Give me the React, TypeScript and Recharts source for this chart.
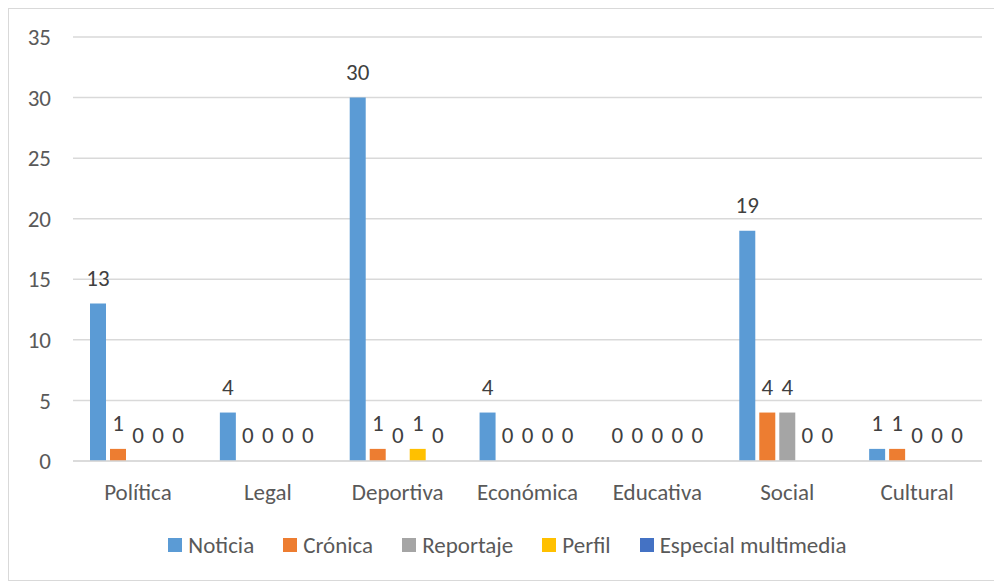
import { BarChart, Bar, XAxis, YAxis, CartesianGrid, Legend, LabelList } from "recharts";

const categories = ["Política", "Legal", "Deportiva", "Económica", "Educativa", "Social", "Cultural"];
const noticia = [13, 4, 30, 4, 0, 19, 1];
const cronica = [1, 0, 1, 0, 0, 4, 1];
const reportaje = [0, 0, 0, 0, 0, 4, 0];
const perfil = [0, 0, 1, 0, 0, 0, 0];
const especial = [0, 0, 0, 0, 0, 0, 0];
const yTicks = [0, 5, 10, 15, 20, 25, 30, 35];

const series = [
  { key: "noticia", name: "Noticia", color: "#5B9BD5" },
  { key: "cronica", name: "Crónica", color: "#ED7D31" },
  { key: "reportaje", name: "Reportaje", color: "#A5A5A5" },
  { key: "perfil", name: "Perfil", color: "#FFC000" },
  { key: "especial", name: "Especial multimedia", color: "#4472C4" }
];

const data = categories.map((name, i) => ({
  name,
  noticia: noticia[i],
  cronica: cronica[i],
  reportaje: reportaje[i],
  perfil: perfil[i],
  especial: especial[i]
}));

const font = "Carlito, Calibri, Lato, sans-serif";
const fs = 23;

// labels drawn by hand so the zero values show up too
const renderLabel = (props: any) => {
  const { x, y, width, value } = props;
  return (
    <text
      x={Number(x) + Number(width) / 2}
      y={Number(y) - 18}
      textAnchor="middle"
      fill="#404040"
      fontSize={fs}
      fontFamily={font}
    >
      {String(value)}
    </text>
  );
};

const LegendContent = () => (
  <div
    style={{
      display: "flex",
      justifyContent: "center",
      alignItems: "center",
      height: 26,
      paddingLeft: 24,
      fontSize: fs,
      fontFamily: font,
      color: "#595959"
    }}
  >
    {series.map((s, i) => (
      <div
        key={s.key}
        style={{ display: "flex", alignItems: "center", marginLeft: i === 0 ? 0 : 29 }}
      >
        <span style={{ width: 14, height: 14, background: s.color, marginRight: 6, display: "inline-block" }} />
        <span>{s.name}</span>
      </div>
    ))}
  </div>
);

export default function App() {
  return (
    <div
      style={{
        width: 994,
        height: 573,
        boxSizing: "border-box",
        border: "1px solid #d9d9d9",
        background: "#fff",
        fontFamily: font
      }}
    >
      <style>{`body{overflow:hidden}`}</style>
      <BarChart
        width={992}
        height={571}
        data={data}
        margin={{ top: 28, right: 19, bottom: 22, left: 0 }}
        barCategoryGap={16}
        barGap={4}
      >
        <CartesianGrid vertical={false} stroke="#d9d9d9" strokeWidth={1.5} />
        <XAxis
          dataKey="name"
          height={71}
          tickLine={false}
          tickSize={0}
          tickMargin={23}
          axisLine={{ stroke: "#d9d9d9", strokeWidth: 1.5 }}
          tick={{ fontSize: fs, fill: "#595959", fontFamily: font }}
        />
        <YAxis
          width={64}
          domain={[0, 35]}
          ticks={yTicks}
          tickLine={false}
          axisLine={false}
          tickSize={0}
          tickMargin={22}
          tick={{ fontSize: fs, fill: "#595959", fontFamily: font }}
        />
        <Legend verticalAlign="bottom" content={<LegendContent />} />
        {series.map((s) => (
          <Bar
            key={s.key}
            dataKey={s.key}
            name={s.name}
            fill={s.color}
            barSize={16}
            minPointSize={0.01}
            isAnimationActive={false}
          >
            <LabelList dataKey={s.key} content={renderLabel} />
          </Bar>
        ))}
      </BarChart>
    </div>
  );
}
